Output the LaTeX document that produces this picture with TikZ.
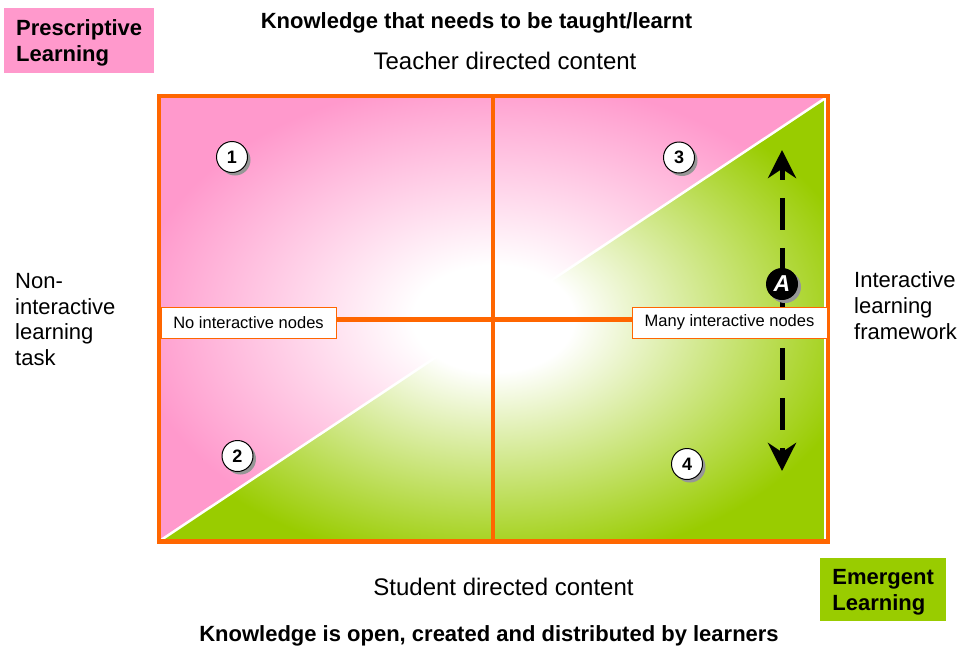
\documentclass[tikz,border=0pt]{standalone}
\usepackage{fontspec}
\setmainfont{Liberation Sans}
\usetikzlibrary{arrows.meta,shadows}
\definecolor{pinkc}{RGB}{255,153,204}
\definecolor{greenc}{RGB}{153,204,0}
\definecolor{orangec}{RGB}{255,102,0}
\definecolor{shadowc}{RGB}{150,150,150}
\pgfdeclareradialshading{pinkfade}{\pgfpointorigin}{color(0bp)=(white); color(6bp)=(white); color(27bp)=(pinkc); color(50bp)=(pinkc)}
\pgfdeclareradialshading{greenfade}{\pgfpointorigin}{color(0bp)=(white); color(6bp)=(white); color(28bp)=(greenc); color(50bp)=(greenc)}
\tikzset{
  frame/.style={orangec, line width=4.5pt},
  labelbox/.style={draw=orangec, fill=white, line width=1pt, inner sep=0pt, minimum height=31pt, font=\fontsize{16.5}{18}\selectfont},
  numc/.style={circle, draw=black, line width=1pt, fill=white, minimum size=31pt, inner sep=0pt,
    font=\bfseries\fontsize{18}{18}\selectfont,
    drop shadow={shadow xshift=3pt, shadow yshift=-3pt, fill=shadowc, opacity=1}},
  acirc/.style={circle, fill=black, text=white, minimum size=32pt, inner sep=0pt,
    font=\bfseries\itshape\fontsize{23}{23}\selectfont,
    drop shadow={shadow xshift=3pt, shadow yshift=-3pt, fill=shadowc, opacity=1}},
  cornerbox/.style={minimum height=65pt, inner sep=0pt, align=left, text depth=0pt,
    font=\bfseries\fontsize{22}{26}\selectfont},
  sidetext/.style={anchor=north west, align=left, inner sep=0pt, font=\fontsize{22}{25.7}\selectfont},
  dasharrow/.style={line width=5pt, dash pattern=on 32pt off 18pt, dash phase=19pt,
    {Stealth[length=28pt,width=28pt]}-{Stealth[length=28pt,width=28pt]}}
}
\begin{document}
\begin{tikzpicture}[x=1pt,y=-1pt]
\useasboundingbox (0,0) rectangle (963,645);
\coordinate (TL) at (159,96);
\coordinate (TR) at (828,96);
\coordinate (BR) at (828,541.5);
\coordinate (BL) at (159,541.5);
% backgrounds
\shade[shading=pinkfade] (TL) -- (TR) -- (BL) -- cycle;
\shade[shading=greenfade] (TR) -- (BR) -- (BL) -- cycle;
\coordinate (dA) at (161,540);
\coordinate (dB) at (825.5,98);
\draw[white, line width=2.5pt] (dA) -- (dB);
\coordinate (rA) at (824.5,98);
\coordinate (rB) at (824.5,540);
\draw[white, line width=2pt] (rA) -- (rB);
% dividers and frame
\coordinate (vT) at (493,96);
\coordinate (vB) at (493,541.5);
\coordinate (hL) at (159,319.5);
\coordinate (hR) at (828,319.5);
\draw[frame] (vT) -- (vB);
\draw[frame] (hL) -- (hR);
\draw[frame] (TL) rectangle (BR);
% arrow
\coordinate (atop) at (782,150);
\coordinate (abot) at (782,471);
\draw[dasharrow] (atop) -- (abot);
% label boxes
\node[labelbox, minimum width=175pt] (nonodes) at (248.5,322.5) {No interactive nodes};
\node[labelbox, minimum width=195pt] (manynodes) at (729.5,322.5) {Many interactive nodes};
% numbered circles
\node[numc] (n1) at (232,157) {1};
\node[numc] (n2) at (237.5,456) {2};
\node[numc] (n3) at (679,157.5) {3};
\node[numc] (n4) at (687,464) {4};
\node[acirc] (nA) at (782,284) {A};
% texts
\node[anchor=base, inner sep=0pt, font=\bfseries\fontsize{22}{26}\selectfont] (ktop) at (476.5,28) {Knowledge that needs to be taught/learnt};
\node[anchor=base, inner sep=0pt, font=\fontsize{24}{28}\selectfont] (teacher) at (505,69) {Teacher directed content};
\node[anchor=base, inner sep=0pt, font=\fontsize{24}{28}\selectfont] (student) at (503.5,595) {Student directed content};
\node[anchor=base, inner sep=0pt, font=\bfseries\fontsize{22}{26}\selectfont] (kbot) at (489,641) {Knowledge is open, created and distributed by learners};
\node[sidetext] (left) at (15,273) {Non-\\interactive\\learning\\task};
\node[sidetext] (right) at (854,271.5) {Interactive\\learning\\framework};
\node[cornerbox, fill=pinkc, minimum width=150pt, anchor=north west] (presc) at (4,8) {Prescriptive\\Learning};
\node[cornerbox, fill=greenc, minimum width=126pt, minimum height=63pt, anchor=north west] (emerg) at (820,558) {Emergent\\Learning};
\end{tikzpicture}
\end{document}
